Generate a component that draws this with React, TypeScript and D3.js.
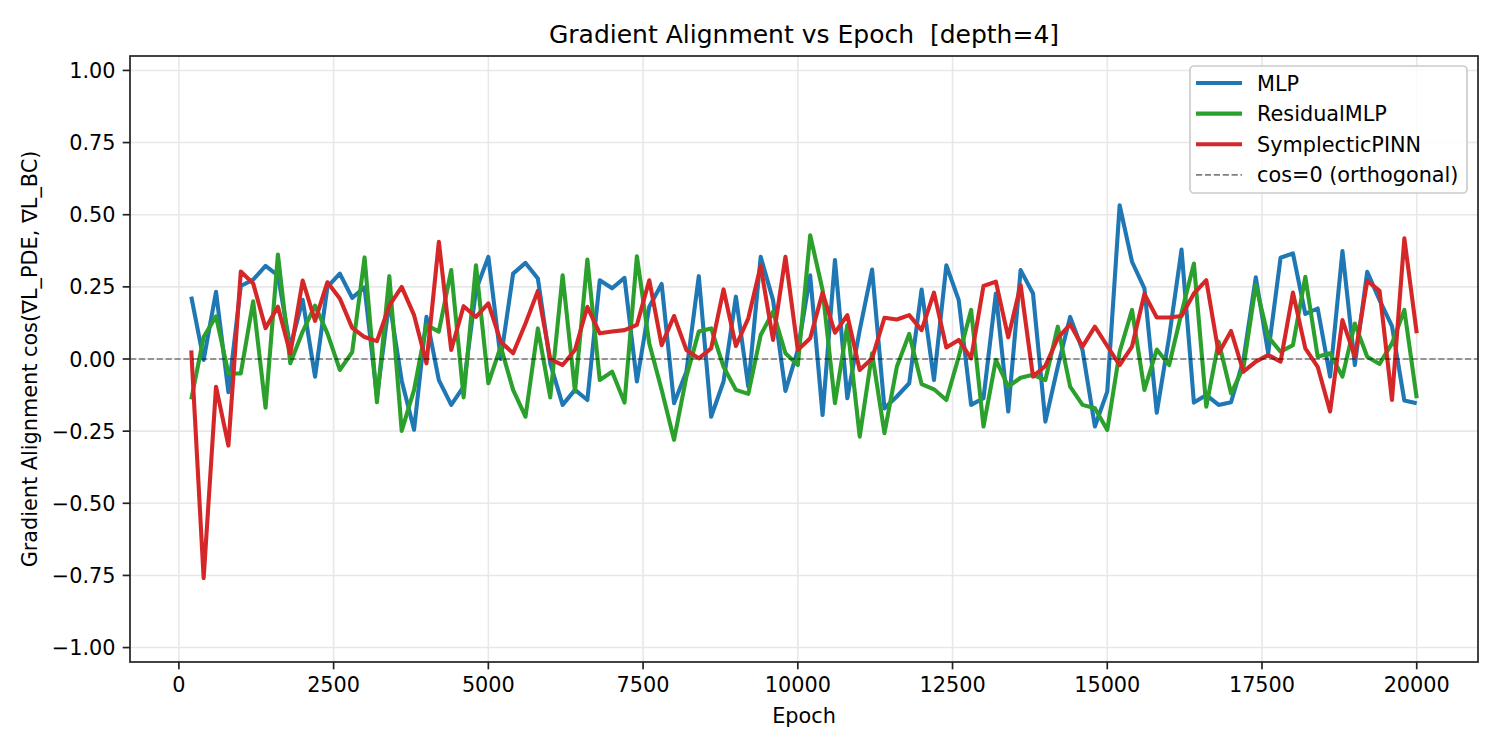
import React from "react";
import * as d3 from "d3";

const epochs = [
  200, 400, 600, 800, 1000, 1200, 1400, 1600, 1800, 2000,
  2200, 2400, 2600, 2800, 3000, 3200, 3400, 3600, 3800, 4000,
  4200, 4400, 4600, 4800, 5000, 5200, 5400, 5600, 5800, 6000,
  6200, 6400, 6600, 6800, 7000, 7200, 7400, 7600, 7800, 8000,
  8200, 8400, 8600, 8800, 9000, 9200, 9400, 9600, 9800, 10000,
  10200, 10400, 10600, 10800, 11000, 11200, 11400, 11600, 11800, 12000,
  12200, 12400, 12600, 12800, 13000, 13200, 13400, 13600, 13800, 14000,
  14200, 14400, 14600, 14800, 15000, 15200, 15400, 15600, 15800, 16000,
  16200, 16400, 16600, 16800, 17000, 17200, 17400, 17600, 17800, 18000,
  18200, 18400, 18600, 18800, 19000, 19200, 19400, 19600, 19800, 20000,
];

const mlp = [
  0.216, -0.003, 0.233, -0.115, 0.253, 0.275, 0.323, 0.29, 0.04, 0.205,
  -0.061, 0.25, 0.296, 0.212, 0.248, -0.13, 0.2, -0.075, -0.245, 0.146,
  -0.073, -0.159, -0.096, 0.239, 0.354, 0.0, 0.296, 0.333, 0.279, -0.015,
  -0.159, -0.107, -0.142, 0.273, 0.245, 0.281, -0.078, 0.181, 0.26, -0.153,
  -0.044, 0.287, -0.2, -0.078, 0.216, -0.096, 0.354, 0.204, -0.111, 0.031,
  0.29, -0.194, 0.343, -0.136, 0.1, 0.31, -0.171, -0.13, -0.084, 0.241,
  -0.073, 0.325, 0.204, -0.159, -0.136, 0.227, -0.182, 0.308, 0.227, -0.217,
  -0.027, 0.146, 0.031, -0.234, -0.113, 0.533, 0.337, 0.245, -0.186, 0.077,
  0.379, -0.151, -0.125, -0.159, -0.15, -0.003, 0.283, 0.02, 0.351, 0.366,
  0.156, 0.175, -0.061, 0.374, -0.021, 0.302, 0.204, 0.114, -0.144, -0.153,
];

const residualMlp = [
  -0.14, 0.076, 0.148, -0.05, -0.05, 0.2, -0.169, 0.362, -0.015, 0.095,
  0.185, 0.089, -0.038, 0.024, 0.352, -0.15, 0.287, -0.249, -0.107, 0.118,
  0.095, 0.308, -0.133, 0.325, -0.084, 0.043, -0.107, -0.2, 0.106, -0.133,
  0.29, -0.113, 0.345, -0.073, -0.044, -0.151, 0.356, 0.054, -0.107, -0.28,
  -0.061, 0.095, 0.106, -0.027, -0.107, -0.121, 0.083, 0.164, 0.02, -0.021,
  0.429, 0.239, -0.153, 0.118, -0.269, 0.02, -0.257, -0.027, 0.087, -0.087,
  -0.105, -0.142, 0.008, 0.17, -0.234, -0.003, -0.096, -0.065, -0.055, -0.073,
  0.112, -0.096, -0.159, -0.171, -0.246, 0.025, 0.17, -0.107, 0.033, -0.021,
  0.16, 0.331, -0.165, 0.06, -0.119, -0.03, 0.256, 0.077, 0.025, 0.048,
  0.285, 0.008, 0.02, -0.061, 0.123, 0.008, -0.017, 0.054, 0.17, -0.136,
];

const symplecticPinn = [
  0.03, -0.759, -0.096, -0.3, 0.303, 0.262, 0.107, 0.181, 0.018, 0.272,
  0.132, 0.266, 0.21, 0.108, 0.076, 0.062, 0.185, 0.25, 0.152, -0.015,
  0.406, 0.031, 0.183, 0.146, 0.193, 0.06, 0.02, 0.123, 0.236, 0.0,
  -0.021, 0.031, 0.181, 0.089, 0.095, 0.1, 0.118, 0.273, 0.048, 0.149,
  0.031, 0.002, 0.037, 0.241, 0.045, 0.141, 0.322, 0.066, 0.354, 0.031,
  0.072, 0.23, 0.091, 0.152, -0.038, 0.002, 0.143, 0.137, 0.152, 0.1,
  0.23, 0.04, 0.066, 0.002, 0.253, 0.268, 0.075, 0.256, -0.061, -0.024,
  0.072, 0.12, 0.043, 0.112, 0.045, -0.021, 0.043, 0.225, 0.144, 0.144,
  0.149, 0.227, 0.273, 0.02, 0.097, -0.044, -0.009, 0.014, -0.009, 0.23,
  0.037, -0.027, -0.182, 0.135, 0.008, 0.271, 0.236, -0.142, 0.418, 0.089,
];

const xTicks = [0, 2500, 5000, 7500, 10000, 12500, 15000, 17500, 20000];
const yTicks = [-1, -0.75, -0.5, -0.25, 0, 0.25, 0.5, 0.75, 1];

const seriesNames = ["MLP", "ResidualMLP", "SymplecticPINN"];
const seriesColors = ["#1f77b4", "#2ca02c", "#d62728"];
const seriesData = [mlp, residualMlp, symplecticPinn];
const refLabel = "cos=0 (orthogonal)";
const titleText = "Gradient Alignment vs Epoch\u00a0\u00a0[depth=4]";

const W = 1500;
const H = 750;
const L = 130, R = 1478, T = 56, B = 662;
const FONT = "DejaVu Sans, Liberation Sans, sans-serif";

export default function App() {
  const x = d3.scaleLinear().domain([-790, 20990]).range([L, R]);
  const y = d3.scaleLinear().domain([-1.05, 1.05]).range([B, T]);
  const line = d3
    .line<number>()
    .x((_, i) => x(epochs[i]))
    .y((d) => y(d));
  const fmtY = (v: number) => {
    const s = Math.abs(v).toFixed(2);
    return v < 0 ? "\u2212" + s : s;
  };
  const gridColor = "#e8e8e8";
  const legendRows = [0, 1, 2, 3];
  const legX = 1190, legY = 66, legW = 277, legH = 127;
  const rowY = (i: number) => 83 + i * 30.6;

  return (
    <svg
      width={W}
      height={H}
      style={{ position: "absolute", left: 0, top: 0, background: "#fff" }}
      fontFamily={FONT}
    >
      <rect x={0} y={0} width={W} height={H} fill="#fff" />
      <defs>
        <clipPath id="plotclip">
          <rect x={L} y={T} width={R - L} height={B - T} />
        </clipPath>
      </defs>
      {xTicks.map((t) => (
        <line key={"gx" + t} x1={x(t)} x2={x(t)} y1={T} y2={B} stroke={gridColor} strokeWidth={1.6} />
      ))}
      {yTicks.map((t) => (
        <line key={"gy" + t} x1={L} x2={R} y1={y(t)} y2={y(t)} stroke={gridColor} strokeWidth={1.6} />
      ))}
      <g clipPath="url(#plotclip)">
        {seriesData.map((d, i) => (
          <path
            key={seriesNames[i]}
            d={line(d) || ""}
            fill="none"
            stroke={seriesColors[i]}
            strokeWidth={4.1}
            strokeLinejoin="round"
            strokeLinecap="butt"
          />
        ))}
        <line
          x1={L}
          x2={R}
          y1={y(0)}
          y2={y(0)}
          stroke="#000"
          strokeOpacity={0.5}
          strokeWidth={1.7}
          strokeDasharray="6.2,2.7"
        />
      </g>
      <rect x={L} y={T} width={R - L} height={B - T} fill="none" stroke="#222" strokeWidth={1.7} />
      {xTicks.map((t) => (
        <g key={"xt" + t}>
          <line x1={x(t)} x2={x(t)} y1={B} y2={B + 7.3} stroke="#222" strokeWidth={1.7} />
          <text x={x(t)} y={692} textAnchor="middle" fontSize={20.8} fill="#000">
            {String(t)}
          </text>
        </g>
      ))}
      {yTicks.map((t) => (
        <g key={"yt" + t}>
          <line x1={L - 7.3} x2={L} y1={y(t)} y2={y(t)} stroke="#222" strokeWidth={1.7} />
          <text x={115.5} y={y(t) + 7.5} textAnchor="end" fontSize={20.8} fill="#000">
            {fmtY(t)}
          </text>
        </g>
      ))}
      <text x={(L + R) / 2} y={723} textAnchor="middle" fontSize={20.8} fill="#000">
        Epoch
      </text>
      <text
        transform={`translate(37, ${(T + B) / 2}) rotate(-90)`}
        textAnchor="middle"
        fontSize={20.8}
        fill="#000"
      >
        Gradient Alignment cos(∇L_PDE, ∇L_BC)
      </text>
      <text x={(L + R) / 2} y={43} textAnchor="middle" fontSize={25} fill="#000" style={{ whiteSpace: "pre" }}>
        {titleText}
      </text>
      <rect
        x={legX}
        y={legY}
        width={legW}
        height={legH}
        rx={4}
        fill="#fff"
        fillOpacity={0.8}
        stroke="#cccccc"
        strokeWidth={1.7}
      />
      {legendRows.map((i) => (
        <g key={"lg" + i}>
          {i < 3 ? (
            <line x1={1196} x2={1242} y1={rowY(i)} y2={rowY(i)} stroke={seriesColors[i]} strokeWidth={4.1} />
          ) : (
            <line
              x1={1196}
              x2={1242}
              y1={rowY(i)}
              y2={rowY(i)}
              stroke="#000"
              strokeOpacity={0.5}
              strokeWidth={1.7}
              strokeDasharray="6.2,2.7"
            />
          )}
          <text x={1257} y={rowY(i) + 7.5} fontSize={20.8} fill="#000">
            {i < 3 ? seriesNames[i] : refLabel}
          </text>
        </g>
      ))}
    </svg>
  );
}
